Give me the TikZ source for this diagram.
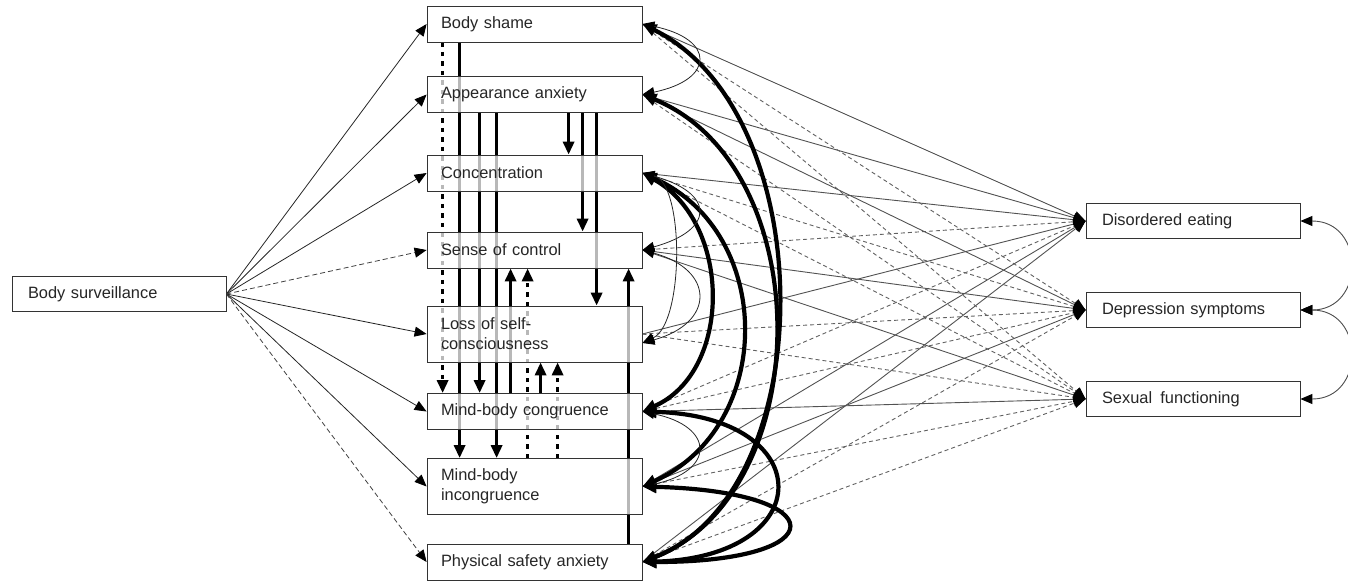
\documentclass[tikz,border=0pt]{standalone}
\usepackage{fontspec}
\setmainfont{Liberation Sans}
\usetikzlibrary{arrows.meta,backgrounds,calc}
\begin{document}
\begin{tikzpicture}[x=1pt,y=-1pt,
  basebox/.style={draw=black!80, line width=0.8pt, fill=white, fill opacity=0.72,
    text opacity=1, draw opacity=1, inner ysep=0pt, align=left,
    font=\fontsize{16.4}{20}\selectfont, text=black!85},
  med/.style={basebox, text width=187pt, inner xsep=14pt, minimum height=36pt},
  med2/.style={med, minimum height=56pt},
  outbox/.style={basebox, text width=182pt, inner xsep=16pt, minimum height=35pt},
  thinarr/.style={-{Triangle[width=10pt,length=12pt,color=black]}, line width=0.8pt, draw=black!85},
  thinarrd/.style={thinarr, dash pattern=on 5pt off 3pt, draw=black!75},
  outs/.style={-{Triangle[width=10pt,length=12pt,color=black]}, line width=0.9pt, draw=black!68},
  outd/.style={outs, dash pattern=on 4pt off 3pt, draw=black!62},
  vert/.style={-{Triangle[width=11pt,length=13pt]}, line width=3.5pt, draw=black},
  vertd/.style={vert, dash pattern=on 4.5pt off 5pt},
  cthick/.style={{Triangle[width=12pt,length=14pt]}-{Triangle[width=12pt,length=14pt]}, line width=4.2pt, draw=black},
  cthin/.style={{Triangle[width=10pt,length=12pt,color=black]}-{Triangle[width=10pt,length=12pt,color=black]}, line width=0.8pt, draw=black!85},
  cout/.style={{Triangle[width=10pt,length=12pt,color=black]}-{Triangle[width=10pt,length=12pt,color=black]}, line width=0.9pt, draw=black!70}
]
\useasboundingbox (0,0) rectangle (1348,582);

% boxes
\node[outbox] (bsv) at (119,294) {Body surveillance};

\node[med]  (bs)   at (534.5,24)  {Body shame};
\node[med]  (aa)   at (534.5,94.5) {Appearance anxiety};
\node[med]  (conc) at (534.5,173) {Concentration};
\node[med]  (soc)  at (534.5,250) {Sense of control};
\node[med2] (loss) at (534.5,334) {Loss of self-\\consciousness};
\node[med]  (mbc)  at (534.5,411.5) {Mind-body congruence};
\node[med2] (mbi)  at (534.5,486.5) {Mind-body\\incongruence};
\node[med]  (psa)  at (534.5,562) {Physical safety anxiety};

\node[outbox] (de) at (1193,221) {Disordered eating};
\node[outbox] (ds) at (1193,310) {Depression symptoms};
\node[outbox] (sf) at (1193,399) {Sexual\, functioning};

\begin{pgfonlayer}{background}
% body surveillance paths
\foreach \t in {bs,aa,conc,loss,mbc,mbi} \draw[thinarr] (bsv.east) -- (\t.west);
\draw[thinarrd] (bsv.east) -- (soc.west);
\draw[thinarrd] (bsv.east) -- (psa.west);

% mediators -> outcomes
\draw[outs] (bs.east) -- (de.west);
\draw[outs] (aa.east) -- (de.west);
\draw[outs] (conc.east) -- (de.west);
\draw[outd] (soc.east) -- (de.west);
\draw[outs] (loss.east) -- (de.west);
\draw[outd] (mbc.east) -- (de.west);
\draw[outs] (mbi.east) -- (de.west);
\draw[outs] (psa.east) -- (de.west);

\draw[outd] (bs.east) -- (ds.west);
\draw[outs] (aa.east) -- (ds.west);
\draw[outd] (conc.east) -- (ds.west);
\draw[outs] (soc.east) -- (ds.west);
\draw[outd] (loss.east) -- (ds.west);
\draw[outd] (mbc.east) -- (ds.west);
\draw[outs] (mbi.east) -- (ds.west);
\draw[outd] (psa.east) -- (ds.west);

\draw[outd] (bs.east) -- (sf.west);
\draw[outd] (aa.east) -- (sf.west);
\draw[outd] (conc.east) -- (sf.west);
\draw[outs] (soc.east) -- (sf.west);
\draw[outd] (loss.east) -- (sf.west);
\draw[outs] (mbc.east) -- (sf.west);
\draw[outd] (mbi.east) -- (sf.west);
\draw[outd] (psa.east) -- (sf.west);

% vertical paths among mediators
\draw[vertd] ([xshift=16pt]bs.south west) -- ([xshift=16pt]mbc.north west);
\draw[vert]  ([xshift=33pt]bs.south west) -- ([xshift=33pt]mbi.north west);
\draw[vert]  ([xshift=53pt]aa.south west) -- ([xshift=53pt]mbc.north west);
\draw[vert]  ([xshift=70pt]aa.south west) -- ([xshift=70pt]mbi.north west);
\draw[vert]  ([xshift=84pt]mbc.north west) -- ([xshift=84pt]soc.south west);
\draw[vertd] ([xshift=101pt]mbi.north west) -- ([xshift=101pt]soc.south west);
\draw[vert]  ([xshift=114pt]mbc.north west) -- ([xshift=114pt]loss.south west);
\draw[vertd] ([xshift=131pt]mbi.north west) -- ([xshift=131pt]loss.south west);
\draw[vert]  ([xshift=142pt]aa.south west) -- ([xshift=142pt]conc.north west);
\draw[vert]  ([xshift=156pt]aa.south west) -- ([xshift=156pt]soc.north west);
\draw[vert]  ([xshift=170pt]aa.south west) -- ([xshift=170pt]loss.north west);
\draw[vert]  ([xshift=202pt]psa.north west) -- ([xshift=202pt]soc.south west);

% thick covariances
\draw[cthick] (bs.east) .. controls +(180,90) and +(180,-70) .. (psa.east);
\draw[cthick] (aa.east) .. controls +(176,72) and +(176,-70) .. (psa.east);
\draw[cthick] (conc.east) .. controls +(90,50) and +(90,-40) .. (mbc.east);
\draw[cthick] (conc.east) .. controls +(133,60) and +(133,-60) .. (mbi.east);
\draw[cthick] (mbc.east) .. controls +(177,5) and +(177,-5) .. (psa.east);
\draw[cthick] (mbi.east) .. controls +(193,5) and +(193,0) .. (psa.east);

% thin covariances
\draw[cthin] (bs.east) .. controls +(73,15) and +(73,-15) .. (aa.east);
\draw[cthin] (conc.east) .. controls +(73,20) and +(73,-20) .. (soc.east);
\draw[cthin] (conc.east) .. controls +(42,10) and +(42,-20) .. ($(loss.east)+(0,9)$);
\draw[cthin] (soc.east) .. controls +(73,20) and +(73,-20) .. ($(loss.east)+(0,9)$);
\draw[cthin] (mbc.east) .. controls +(73,15) and +(73,-15) .. (mbi.east);

% outcome covariances
\draw[cout] (de.east) .. controls +(65,0) and +(65,0) .. (ds.east);
\draw[cout] (ds.east) .. controls +(65,0) and +(65,0) .. (sf.east);
\end{pgfonlayer}
\end{tikzpicture}
\end{document}
